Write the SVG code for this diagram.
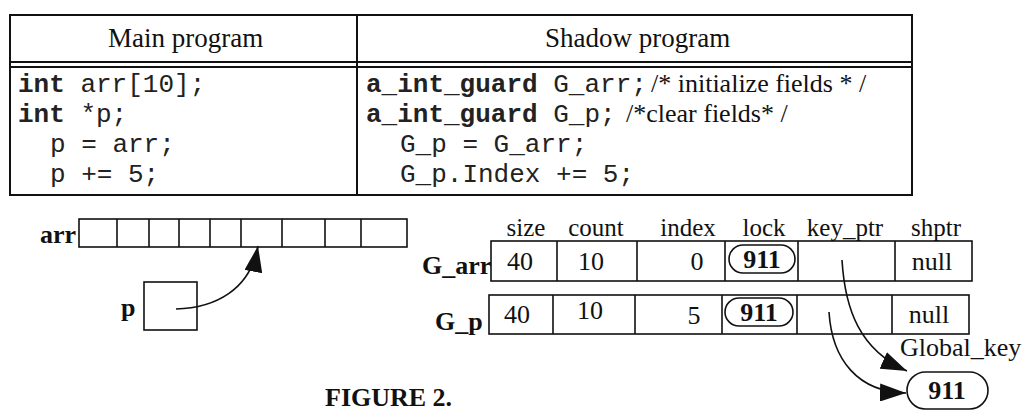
<svg xmlns="http://www.w3.org/2000/svg" width="1027" height="411" viewBox="0 0 1027 411">
<style>
.ln{fill:none;stroke:#111;stroke-width:1.6}
.tb{fill:none;stroke:#111;stroke-width:2}
.serif{font-family:"Liberation Serif","Times New Roman",serif;fill:#111}
.mono{font-family:"Liberation Mono","Courier New",monospace;font-size:26px;fill:#222}
.b{font-weight:bold}
.mid{text-anchor:middle}
.hdr{font-size:27px}
.lbl{font-size:25px}
.val{font-size:26px}
.conn{fill:none;stroke:#111;stroke-width:1.6}
</style>
<defs>
<marker id="ah" markerUnits="userSpaceOnUse" viewBox="0 0 26 18" refX="26" refY="9" markerWidth="26" markerHeight="18" orient="auto">
<path d="M0,0 L26,9 L0,18 Z" fill="#111"/>
</marker>
</defs>
<rect width="1027" height="411" fill="#fff"/>

<g id="table">
<rect class="tb" x="10" y="15" width="902" height="180"/>
<line class="tb" x1="10" y1="62" x2="912" y2="62"/>
<line class="tb" x1="10" y1="67" x2="912" y2="67"/>
<line class="tb" x1="357" y1="15" x2="357" y2="195"/>
<text class="serif hdr" x="108" y="47">Main program</text>
<text class="serif hdr" x="545" y="47">Shadow program</text>
<text class="mono" x="18" y="92"><tspan class="b">int</tspan> arr[10];</text>
<text class="mono" x="18" y="122"><tspan class="b">int</tspan> *p;</text>
<text class="mono" x="50" y="152">p = arr;</text>
<text class="mono" x="50" y="182">p += 5;</text>
<text class="mono" x="366" y="92"><tspan class="b">a_int_guard</tspan> G_arr;</text>
<text class="serif val" x="651" y="92">/* initialize fields * /</text>
<text class="mono" x="366" y="122"><tspan class="b">a_int_guard</tspan> G_p;</text>
<text class="serif val" x="626" y="122">/*clear fields* /</text>
<text class="mono" x="400" y="152">G_p = G_arr;</text>
<text class="mono" x="400" y="182">G_p.Index += 5;</text>
</g>

<g id="arr">
<text class="serif b val" x="40" y="243">arr</text>
<rect class="ln" x="79" y="219" width="328" height="28"/>
<path class="ln" d="M117,219V247M149,219V247M179,219V247M210,219V247M241,219V247M282,219V247M325,219V247M361,219V247"/>
</g>

<g id="p">
<text class="serif b val" x="121" y="316">p</text>
<rect class="ln" x="144" y="282" width="53" height="48"/>
</g>

<g id="field-labels">
<text class="serif lbl mid" x="526" y="236">size</text>
<text class="serif lbl mid" x="596" y="236">count</text>
<text class="serif lbl mid" x="688" y="236">index</text>
<text class="serif lbl mid" x="764" y="236">lock</text>
<text class="serif lbl mid" x="845" y="236">key_ptr</text>
<text class="serif lbl mid" x="936" y="236">shptr</text>
</g>

<g id="G_arr">
<text class="serif b val" x="422" y="274">G_arr</text>
<rect class="ln" x="491" y="241" width="481" height="40"/>
<path class="ln" d="M557,241V281M637,241V281M725,241V281M798,241V281M895,241V281"/>
<text class="serif val mid" x="520" y="270">40</text>
<text class="serif val mid" x="591" y="270">10</text>
<text class="serif val mid" x="697" y="270">0</text>
<rect class="ln" x="729" y="245" width="66" height="28" rx="14"/>
<text class="serif b val mid" x="762" y="268">911</text>
<text class="serif val mid" x="932" y="270">null</text>
</g>

<g id="G_p">
<text class="serif b val" x="435" y="330">G_p</text>
<rect class="ln" x="489" y="295" width="480" height="39"/>
<path class="ln" d="M553,295V334M635,295V334M722,295V334M797,295V334M892,295V334"/>
<text class="serif val mid" x="517" y="323">40</text>
<text class="serif val mid" x="590" y="319">10</text>
<text class="serif val mid" x="694" y="324">5</text>
<rect class="ln" x="725" y="298" width="68" height="28" rx="14"/>
<text class="serif b val mid" x="759" y="321">911</text>
<text class="serif val mid" x="929" y="323">null</text>
</g>

<g id="global_key">
<text class="serif val" x="900" y="356">Global_key</text>
<rect class="ln" x="907" y="372" width="81" height="37" rx="18.5"/>
<text class="serif b val mid" x="947" y="399">911</text>
</g>

<g id="connectors">
<path class="conn" d="M176,309 C215,308 250,290 258,246" marker-end="url(#ah)"/>
<path class="conn" d="M842,260 C845,310 860,350 907,371" marker-end="url(#ah)"/>
<path class="conn" d="M829,312 C832,360 858,392 906,393" marker-end="url(#ah)"/>
</g>

<g id="caption">
<text class="serif b val" x="325" y="406">FIGURE 2.</text>
</g>
</svg>
